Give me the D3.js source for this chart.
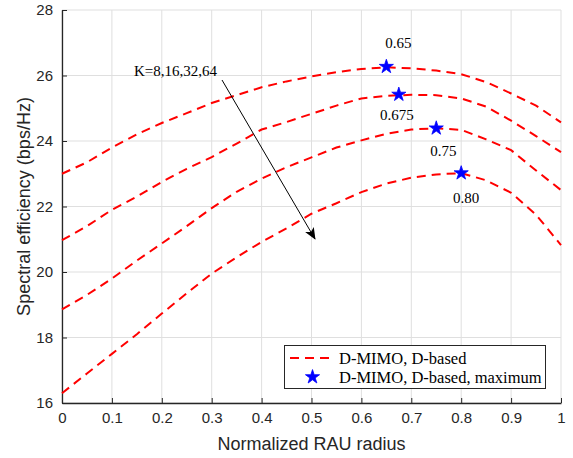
<!DOCTYPE html>
<html>
<head>
<meta charset="utf-8">
<script src="https://cdn.jsdelivr.net/npm/d3@7"></script>
<style>
  body { margin: 0; background: #fff; }
  svg { display: block; }
</style>
</head>
<body>
<svg id="chart" width="573" height="458"></svg>
<script>
// radius values (normalized RAU radius)
var radius = [0, 0.05, 0.1, 0.15, 0.2, 0.25, 0.3, 0.35, 0.4, 0.45, 0.5,
              0.55, 0.6, 0.65, 0.7, 0.75, 0.8, 0.85, 0.9, 0.95, 1.0];

// spectral efficiency per K
var seK8  = [23.0, 23.35, 23.8, 24.2, 24.55, 24.85, 25.16, 25.4, 25.64, 25.82, 25.97,
             26.1, 26.2, 26.25, 26.22, 26.15, 26.04, 25.8, 25.45, 25.08, 24.57];
var seK16 = [20.97, 21.4, 21.9, 22.3, 22.75, 23.15, 23.51, 23.92, 24.35, 24.58, 24.83,
             25.08, 25.3, 25.38, 25.41, 25.4, 25.3, 25.05, 24.62, 24.15, 23.66];
var seK32 = [18.86, 19.3, 19.8, 20.35, 20.87, 21.4, 21.95, 22.45, 22.85, 23.2, 23.5,
             23.8, 24.02, 24.22, 24.35, 24.39, 24.34, 24.05, 23.72, 23.1, 22.5];
var seK64 = [16.3, 16.9, 17.5, 18.1, 18.73, 19.35, 19.95, 20.45, 20.92, 21.33, 21.78,
             22.1, 22.44, 22.7, 22.88, 22.98, 23.02, 22.8, 22.42, 21.75, 20.82];

// maxima of each curve
var maxX = [0.65, 0.675, 0.75, 0.80];
var maxY = [26.27, 25.42, 24.39, 23.02];
var maxLabels = ["0.65", "0.675", "0.75", "0.80"];

var xTicks = [0, 0.1, 0.2, 0.3, 0.4, 0.5, 0.6, 0.7, 0.8, 0.9, 1];
var yTicks = [16, 18, 20, 22, 24, 26, 28];

var svg = d3.select("#chart");
var plotLeft = 62, plotRight = 561, plotTop = 10, plotBottom = 403;

var x = d3.scaleLinear().domain([0, 1]).range([plotLeft, plotRight]);
var y = d3.scaleLinear().domain([16, 28]).range([plotBottom, plotTop]);

var AXIS_COLOR = "#262626";
var GRID_COLOR = "#dfdfdf";
var sansFont = "'Liberation Sans', Arial, sans-serif";
var serifFont = "'Liberation Serif', 'Times New Roman', serif";

// grid
svg.append("g").selectAll("line").data(xTicks).join("line")
    .attr("x1", function (d) { return x(d); })
    .attr("x2", function (d) { return x(d); })
    .attr("y1", plotTop).attr("y2", plotBottom)
    .style("stroke", GRID_COLOR).style("stroke-width", 1);
svg.append("g").selectAll("line").data(yTicks).join("line")
    .attr("y1", function (d) { return y(d); })
    .attr("y2", function (d) { return y(d); })
    .attr("x1", plotLeft).attr("x2", plotRight)
    .style("stroke", GRID_COLOR).style("stroke-width", 1);

// axes
var xAxis = svg.append("g")
    .attr("transform", "translate(0," + plotBottom + ")")
    .call(d3.axisBottom(x).tickValues(xTicks).tickSizeInner(-5).tickSizeOuter(0)
        .tickPadding(9).tickFormat(function (d) { return d === 0 || d === 1 ? d : d3.format(".1f")(d); }));
var yAxis = svg.append("g")
    .attr("transform", "translate(" + plotLeft + ",0)")
    .call(d3.axisLeft(y).tickValues(yTicks).tickSizeInner(-5).tickSizeOuter(0).tickPadding(9));

[xAxis, yAxis].forEach(function (a) {
    a.select(".domain").style("stroke", AXIS_COLOR).style("stroke-width", 1.3);
    a.selectAll(".tick line").style("stroke", AXIS_COLOR).style("stroke-width", 1);
    a.selectAll(".tick text").style("fill", AXIS_COLOR)
        .style("font-family", sansFont).style("font-size", "15px");
});

// axis titles
svg.append("text")
    .attr("x", (plotLeft + plotRight) / 2).attr("y", 450)
    .attr("text-anchor", "middle")
    .style("font-family", sansFont).style("font-size", "18px").style("fill", AXIS_COLOR)
    .text("Normalized RAU radius");
svg.append("text")
    .attr("transform", "translate(30," + ((plotTop + plotBottom) / 2) + ") rotate(-90)")
    .attr("text-anchor", "middle")
    .style("font-family", sansFont).style("font-size", "18px").style("fill", AXIS_COLOR)
    .text("Spectral efficiency (bps/Hz)");

// curves
var line = d3.line()
    .x(function (d, i) { return x(radius[i]); })
    .y(function (d) { return y(d); });

[seK8, seK16, seK32, seK64].forEach(function (s) {
    svg.append("path")
        .datum(s)
        .attr("d", line)
        .style("fill", "none")
        .style("stroke", "#ff0000")
        .style("stroke-width", 2)
        .style("stroke-dasharray", "9,6");
});

// maxima stars
var star = d3.symbol().type(d3.symbolStar).size(62);
svg.append("g").selectAll("path").data(maxX).join("path")
    .attr("transform", function (d, i) { return "translate(" + x(d) + "," + y(maxY[i]) + ")"; })
    .attr("d", star)
    .style("fill", "#0000ff")
    .style("stroke", "#0000ff")
    .style("stroke-width", 0.8);

// labels of maxima (offsets in px from each star)
var labelDx = [12, -2, 7, 5];
var labelDy = [-19, 26, 28, 30];
svg.append("g").selectAll("text").data(maxLabels).join("text")
    .attr("x", function (d, i) { return x(maxX[i]) + labelDx[i]; })
    .attr("y", function (d, i) { return y(maxY[i]) + labelDy[i]; })
    .attr("text-anchor", "middle")
    .style("font-family", serifFont).style("font-size", "15px").style("fill", "#000")
    .text(function (d) { return d; });

// K annotation with arrow
svg.append("text")
    .attr("x", 134).attr("y", 76)
    .style("font-family", serifFont).style("font-size", "15px").style("fill", "#000")
    .text("K=8,16,32,64");

svg.append("defs").append("marker")
    .attr("id", "arrowHead")
    .attr("viewBox", "0 0 12 10")
    .attr("refX", 11).attr("refY", 5)
    .attr("markerWidth", 12).attr("markerHeight", 10)
    .attr("markerUnits", "userSpaceOnUse")
    .attr("orient", "auto")
    .append("path")
    .attr("d", "M0,0 L12,5 L0,10 L3,5 Z")
    .style("fill", "#000");

svg.append("line")
    .attr("x1", 222).attr("y1", 80)
    .attr("x2", 315).attr("y2", 239)
    .style("stroke", "#000").style("stroke-width", 1)
    .attr("marker-end", "url(#arrowHead)");

// legend
var legend = svg.append("g");
legend.append("rect")
    .attr("x", 284.5).attr("y", 345.5)
    .attr("width", 261).attr("height", 43)
    .style("fill", "#fff").style("stroke", AXIS_COLOR).style("stroke-width", 1);
legend.append("line")
    .attr("x1", 290).attr("x2", 335).attr("y1", 358).attr("y2", 358)
    .style("stroke", "#ff0000").style("stroke-width", 2).style("stroke-dasharray", "9,6");
legend.append("path")
    .attr("transform", "translate(312.5,377)")
    .attr("d", star)
    .style("fill", "#0000ff").style("stroke", "#0000ff").style("stroke-width", 0.8);
legend.append("text")
    .attr("x", 339).attr("y", 363.5)
    .style("font-family", serifFont).style("font-size", "16.5px").style("fill", "#000")
    .text("D-MIMO, D-based");
legend.append("text")
    .attr("x", 339).attr("y", 382.5)
    .style("font-family", serifFont).style("font-size", "16.5px").style("fill", "#000")
    .text("D-MIMO, D-based, maximum");
</script>
</body>
</html>
